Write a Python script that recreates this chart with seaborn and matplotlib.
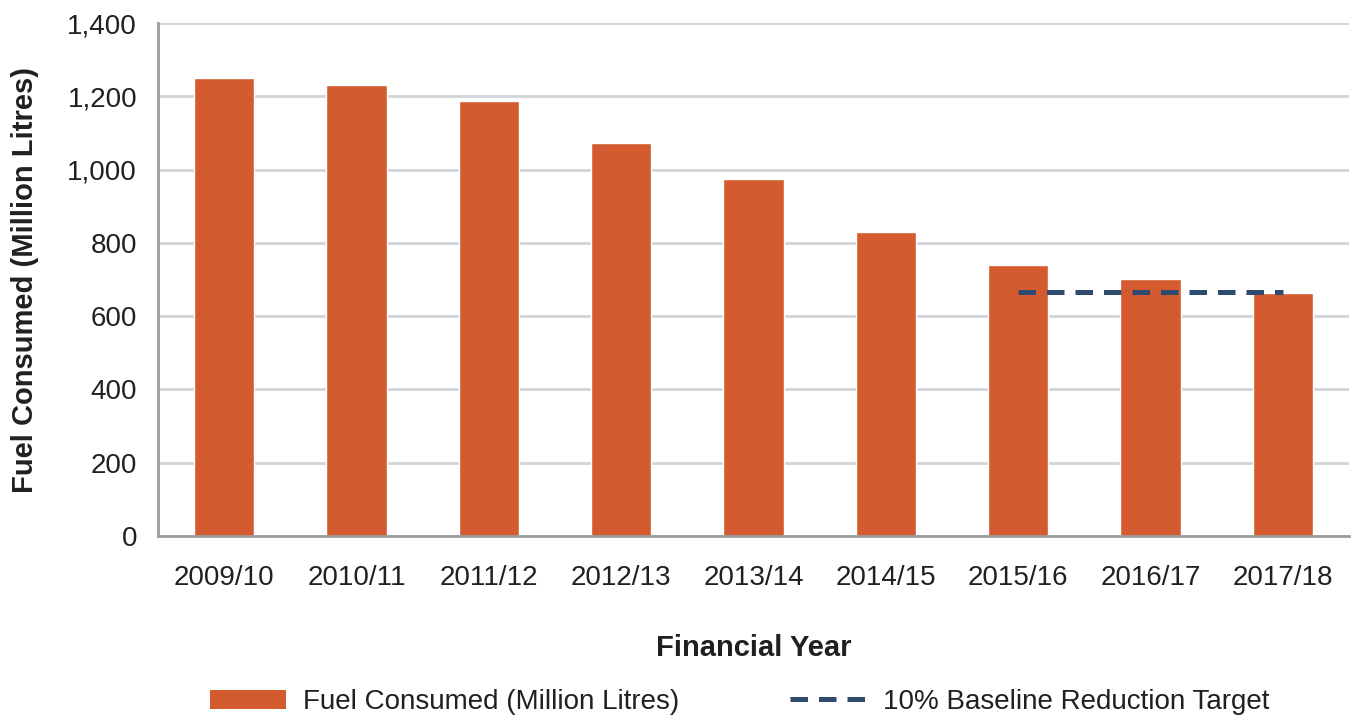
import matplotlib
matplotlib.use("Agg")
import matplotlib.pyplot as plt
import seaborn as sns
import numpy as np
import pandas as pd
from matplotlib.lines import Line2D
from matplotlib.patches import Patch

years = ["2009/10", "2010/11", "2011/12", "2012/13", "2013/14",
         "2014/15", "2015/16", "2016/17", "2017/18"]
fuel = [1250, 1231, 1187, 1073, 974, 830, 740, 701, 663]
target = [np.nan, np.nan, np.nan, np.nan, np.nan, np.nan, 665, 665, 665]
yticks = [0, 200, 400, 600, 800, 1000, 1200, 1400]

bar_color = "#D45B30"
line_color = "#2E4A6E"
grid_color = "#CFD5DA"
spine_color = "#9A9C9C"
text_color = "#231F20"

sns.set_style("white")
plt.rcParams['font.family'] = ['Liberation Sans', 'DejaVu Sans']

df = pd.DataFrame({"year": years, "fuel": fuel, "target": target})

fig = plt.figure(figsize=(13.57, 7.15), dpi=100)
ax = fig.add_axes([0.1164, 0.2503, 0.9941 - 0.1164, 0.9678 - 0.2503])

sns.barplot(data=df, x="year", y="fuel", color=bar_color, width=0.455,
            saturation=1, ax=ax, zorder=2)
sns.lineplot(x=np.arange(len(years)), y=df["target"], color=line_color,
             linewidth=3.6, ax=ax, zorder=3, dashes=False)
for l in ax.lines:
    l.set_dashes([3.5, 2.2])
    l.set_dash_capstyle("butt")

ax.set_xlim(-0.5, len(years) - 0.5)
ax.set_ylim(0, 1400)
ax.set_yticks(yticks)
ax.set_yticklabels([f"{v:,}" for v in yticks])
ax.yaxis.grid(True, color=grid_color, linewidth=2.0, zorder=0)
ax.set_axisbelow(True)

ax.set_xticks(np.arange(len(years)))
ax.set_xticklabels(years)
ax.set_xticks(np.arange(len(years) + 1) - 0.5, minor=True)
ax.tick_params(axis="x", which="major", length=0, pad=21, labelsize=20, labelcolor=text_color)
ax.tick_params(axis="x", which="minor", length=6, width=2, color=spine_color, direction="out")
ax.tick_params(axis="y", which="major", length=6, width=2, color=spine_color, direction="out",
               pad=9, labelsize=20, labelcolor=text_color)

for s in ["top", "right"]:
    ax.spines[s].set_visible(False)
for s in ["left", "bottom"]:
    ax.spines[s].set_color(spine_color)
    ax.spines[s].set_linewidth(2)

ax.set_xlabel("Financial Year", fontsize=21, fontweight="bold", color=text_color)
ax.set_ylabel("Fuel Consumed (Million Litres)", fontsize=21, fontweight="bold", color=text_color)
ax.xaxis.set_label_coords(0.5, -0.191)
ax.yaxis.set_label_coords(-0.0998, 0.5)

handles = [Patch(facecolor=bar_color, edgecolor="none"),
           Line2D([0], [0], color=line_color, linewidth=3.6, dashes=[3.5, 2.2])]
labels = ["Fuel Consumed (Million Litres)", "10% Baseline Reduction Target"]
fig.legend(handles, labels, loc="center", bbox_to_anchor=(0.545, 0.018), ncol=2,
           frameon=False, fontsize=20, handlelength=2.75, handleheight=0.7,
           handletextpad=0.6, columnspacing=4.0, labelcolor=text_color)

fig.savefig("out.png", dpi=100)
